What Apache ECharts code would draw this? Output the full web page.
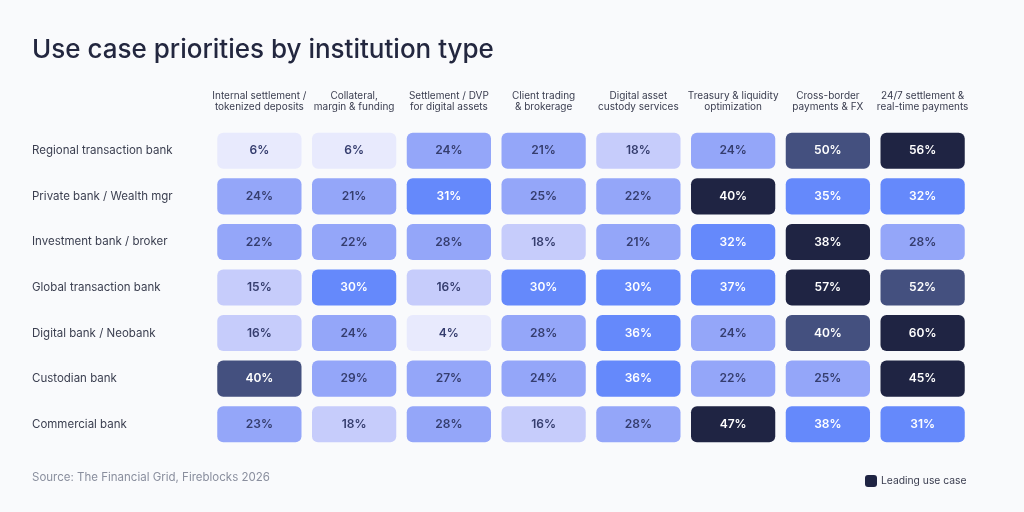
<!DOCTYPE html>
<html>
<head>
<meta charset="utf-8">
<script src="https://cdn.jsdelivr.net/npm/echarts@6/dist/echarts.min.js"></script>
<style>
html,body{margin:0;padding:0;background:#f9fafc;}
#chart{width:1024px;height:512px;}
</style>
</head>
<body>
<div id="chart"></div>
<script>
const useCases = [
  'Internal settlement /\ntokenized deposits',
  'Collateral,\nmargin & funding',
  'Settlement / DVP\nfor digital assets',
  'Client trading\n& brokerage',
  'Digital asset\ncustody services',
  'Treasury & liquidity\noptimization',
  'Cross-border\npayments & FX',
  '24/7 settlement &\nreal-time payments'
];
const institutions = [
  'Regional transaction bank',
  'Private bank / Wealth mgr',
  'Investment bank / broker',
  'Global transaction bank',
  'Digital bank / Neobank',
  'Custodian bank',
  'Commercial bank'
];
const regional   = [6, 6, 24, 21, 18, 24, 50, 56];
const privateBk  = [24, 21, 31, 25, 22, 40, 35, 32];
const investment = [22, 22, 28, 18, 21, 32, 38, 28];
const globalTx   = [15, 30, 16, 30, 30, 37, 57, 52];
const digital    = [16, 24, 4, 28, 36, 24, 40, 60];
const custodian  = [40, 29, 27, 24, 36, 22, 25, 45];
const commercial = [23, 18, 28, 16, 28, 47, 38, 31];
const rows = [regional, privateBk, investment, globalTx, digital, custodian, commercial];

const data = [];
rows.forEach((r, yi) => {
  const mx = Math.max(...r);
  r.forEach((v, xi) => data.push([xi, yi, v, v === mx ? 1 : 0]));
});

function cellColor(v, lead) {
  if (lead) return ['#1f2443', '#ffffff'];
  if (v >= 40) return ['#44507f', '#ffffff'];
  if (v >= 30) return ['#6589fb', '#ffffff'];
  if (v >= 19) return ['#94a6f9', '#353d6e'];
  if (v >= 10) return ['#c6ccfb', '#353d6e'];
  return ['#e8eafd', '#353d6e'];
}

const chart = echarts.init(document.getElementById('chart'));
chart.setOption({
  backgroundColor: '#f9fafc',
  animation: false,
  title: {
    text: 'Use case priorities by institution type',
    left: 27, top: 32,
    textStyle: { fontFamily: 'Inter', fontSize: 26, fontWeight: 500, color: '#23273f' }
  },
  legend: {
    data: [{ name: 'Leading use case', icon: 'roundRect' }],
    left: 860, top: 470,
    itemWidth: 12, itemHeight: 12, itemGap: 6,
    textStyle: { fontFamily: 'Inter', fontSize: 10.3, color: '#3a3d4f', padding: [0, 0, 0, -1] },
    selectedMode: false
  },
  graphic: [{
    type: 'text', left: 32, top: 472,
    style: { text: 'Source: The Financial Grid, Fireblocks 2026', font: '11.5px Inter', fill: '#8a8f9e' }
  }],
  grid: { left: 212, right: 54, top: 128, bottom: 65 },
  xAxis: {
    type: 'category', data: useCases, position: 'top',
    axisLine: { show: false }, axisTick: { show: false }, splitLine: { show: false },
    axisLabel: { interval: 0, margin: 16, fontFamily: 'Inter', fontSize: 10, lineHeight: 11, color: '#3a3d4f', align: 'center' }
  },
  yAxis: {
    type: 'category', data: institutions, inverse: true,
    axisLine: { show: false }, axisTick: { show: false }, splitLine: { show: false },
    axisLabel: { interval: 0, margin: 180, align: 'left', fontFamily: 'Inter', fontSize: 11.5, color: '#3b3f50', padding: [0, 0, 4, 0] }
  },
  series: [{
    name: 'Leading use case',
    type: 'custom',
    itemStyle: { color: '#1f2443' },
    data: data,
    renderItem: function (params, api) {
      const x = api.value(0), y = api.value(1), v = api.value(2), lead = api.value(3);
      const c = api.coord([x, y]);
      const s = api.size([1, 1]);
      const w = s[0] - 10.5, h = s[1] - 9.5;
      const col = cellColor(v, lead === 1);
      return {
        type: 'rect',
        shape: { x: c[0] - w / 2, y: c[1] - h / 2, width: w, height: h, r: 6 },
        style: { fill: col[0] },
        textContent: {
          style: { text: v + '%', fill: col[1], font: '600 12px Inter' }
        },
        textConfig: { position: 'inside' }
      };
    }
  }]
});
</script>
</body>
</html>
